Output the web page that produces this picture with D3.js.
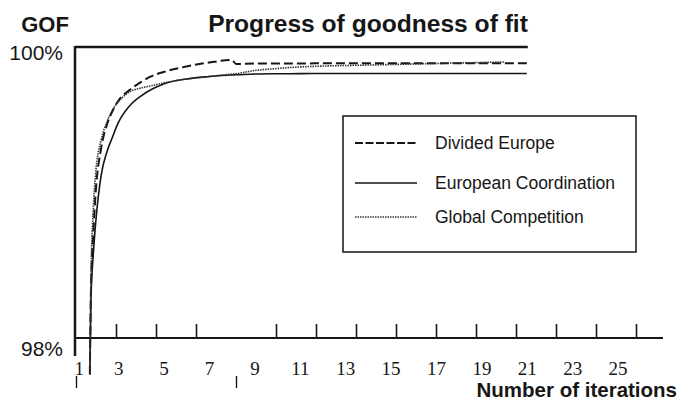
<!DOCTYPE html>
<html>
<head>
<meta charset="utf-8">
<script src="https://cdn.jsdelivr.net/npm/d3@7"></script>
<style>
  body { margin: 0; background: #fff; }
  svg { display: block; }
</style>
</head>
<body>
<svg class="gofChart" width="687" height="404"></svg>
<script>
// iterations (x) and goodness of fit in % (y)
var iterations = [1.75, 1.8, 1.9, 2, 2.25, 2.5, 2.75, 3, 3.5, 4, 4.5, 5, 6, 7, 8, 8.2, 9, 10, 11, 12, 14, 16, 18, 20, 21];

var dividedEurope = [97.75, 98.33, 98.708, 98.983, 99.306, 99.464, 99.56, 99.629, 99.704, 99.759, 99.801, 99.828,
  99.866, 99.893, 99.911, 99.883, 99.887, 99.887, 99.887, 99.888, 99.888, 99.889, 99.889, 99.889, 99.889];

var europeanCoordination = [97.75, 98.261, 98.57, 98.777, 99.12, 99.278, 99.381, 99.478, 99.595, 99.663, 99.711, 99.746,
  99.78, 99.797, 99.808, 99.809, 99.814, 99.816, 99.817, 99.818, 99.818, 99.818, 99.818, 99.818, 99.818];

var globalCompetition = [97.75, 98.399, 98.88, 99.12, 99.361, 99.485, 99.567, 99.622, 99.691, 99.718, 99.735, 99.753,
  99.78, 99.797, 99.814, 99.817, 99.838, 99.852, 99.863, 99.869, 99.876, 99.883, 99.89, 99.897, null];

var seriesNames = ["Divided Europe", "European Coordination", "Global Competition"];
var xLabels = [1, 3, 5, 7, 9, 11, 13, 15, 17, 19, 21, 23, 25];
var tickMarks = [3, 5, 7, 11, 13, 15, 17, 19, 21, 23, 25, 27, 29];
var strayTicks = [1, 9];
var yLabels = [98, 100];

var ink = "#161616";
var sans = "'Liberation Sans', Arial, sans-serif";
var serif = "'Liberation Serif', 'Times New Roman', serif";

var svg = d3.select(".gofChart");

// scales
var x = d3.scaleLinear().domain([1, 25]).range([72.8, 617.6]);
var xTicks = d3.scaleLinear().domain([1, 29]).range([76, 636]);
var y = d3.scaleLinear().domain([98, 100]).range([338, 47]);

// titles
svg.append("text")
    .attr("x", 368).attr("y", 32)
    .attr("text-anchor", "middle")
    .style("font", "bold 24.6px " + sans)
    .attr("fill", ink)
    .text("Progress of goodness of fit");

svg.append("text")
    .attr("x", 45).attr("y", 32)
    .attr("text-anchor", "middle")
    .style("font", "bold 22px " + sans)
    .attr("fill", ink)
    .text("GOF");

svg.append("text")
    .attr("x", 677).attr("y", 397)
    .attr("text-anchor", "end")
    .style("font", "bold 20.5px " + sans)
    .attr("fill", ink)
    .text("Number of iterations");

// y labels
svg.selectAll(".yLabel")
    .data(yLabels)
    .enter().append("text")
      .attr("class", "yLabel")
      .attr("x", 63)
      .attr("y", function(d) { return d === 100 ? y(d) + 13 : y(d) + 18; })
      .attr("text-anchor", "end")
      .style("font", "21px " + sans)
      .attr("fill", ink)
      .text(function(d) { return d + "%"; });

// frame: 100% line and y axis
svg.append("line")
    .attr("x1", 75).attr("x2", x(21) + 1)
    .attr("y1", y(100)).attr("y2", y(100))
    .attr("stroke", ink).attr("stroke-width", 2.5);

svg.append("line")
    .attr("x1", 75).attr("x2", 75)
    .attr("y1", y(100) - 1).attr("y2", 356)
    .attr("stroke", ink).attr("stroke-width", 2.5);

// x axis with up-pointing ticks
var xAxis = svg.append("g")
    .attr("transform", "translate(0," + y(98) + ")")
    .call(d3.axisTop(xTicks).tickValues(tickMarks).tickSize(14).tickFormat(""));
xAxis.select(".domain").remove();
xAxis.selectAll("line").attr("stroke", ink).attr("stroke-width", 1.6);

svg.append("line")
    .attr("x1", 75).attr("x2", 663)
    .attr("y1", y(98)).attr("y2", y(98))
    .attr("stroke", ink).attr("stroke-width", 2);

var stray = svg.append("g")
    .attr("transform", "translate(0,388)")
    .call(d3.axisTop(xTicks).tickValues(strayTicks).tickSize(12).tickFormat(""));
stray.select(".domain").remove();
stray.selectAll("line").attr("stroke", ink).attr("stroke-width", 1.4);

// x labels
var labelAxis = svg.append("g")
    .attr("transform", "translate(0,375)")
    .call(d3.axisBottom(x).tickValues(xLabels).tickSize(0));
labelAxis.select(".domain").remove();
labelAxis.selectAll("text")
    .attr("y", 0).attr("dy", 0)
    .attr("dx", function(d) { return d === 1 ? 6 : 0; })
    .attr("fill", ink)
    .style("font", "19px " + serif);

// curves
var styles = [
  { width: 2, dash: "9,4" },
  { width: 1.6, dash: null },
  { width: 1.6, dash: "1.5,1" }
];
var allSeries = [dividedEurope, europeanCoordination, globalCompetition];

var line = d3.line()
    .defined(function(d) { return d[1] != null; })
    .x(function(d) { return x(d[0]); })
    .y(function(d) { return y(d[1]); })
    .curve(d3.curveMonotoneX);

allSeries.forEach(function(values, i) {
  var pts = iterations.map(function(it, j) { return [it, values[j]]; });
  svg.append("path")
      .attr("d", line(pts))
      .attr("fill", "none")
      .attr("stroke", i === 2 ? "#333" : ink)
      .attr("stroke-width", styles[i].width)
      .attr("stroke-dasharray", styles[i].dash);
});

// legend
var legend = svg.append("g").attr("transform", "translate(343,116)");
legend.append("rect")
    .attr("width", 293).attr("height", 136)
    .attr("fill", "none").attr("stroke", ink).attr("stroke-width", 1.5);

var item = legend.selectAll(".item")
    .data(seriesNames)
    .enter().append("g")
      .attr("class", "item")
      .attr("transform", function(d, i) { return "translate(0," + [27, 67, 101][i] + ")"; });

item.append("line")
    .attr("x1", 12).attr("x2", 74)
    .attr("stroke", function(d, i) { return i === 2 ? "#333" : ink; })
    .attr("stroke-width", function(d, i) { return styles[i].width; })
    .attr("stroke-dasharray", function(d, i) { return i === 0 ? "8,2.5" : styles[i].dash; });

item.append("text")
    .attr("x", 92).attr("y", 6)
    .style("font", "17.5px " + sans)
    .attr("fill", ink)
    .text(function(d) { return d; });
</script>
</body>
</html>
